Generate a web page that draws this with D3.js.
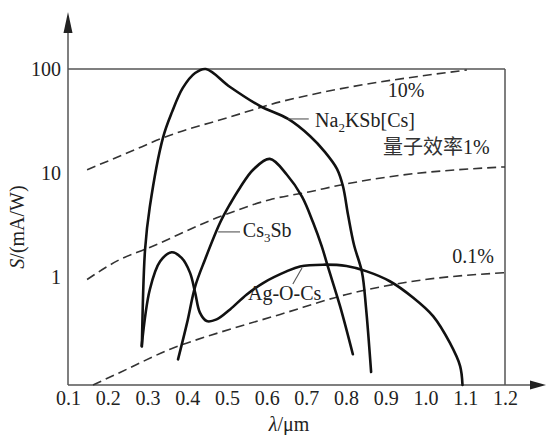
<!DOCTYPE html>
<html>
<head>
<meta charset="utf-8">
<script src="https://cdn.jsdelivr.net/npm/d3@7"></script>
<style>
  html, body { margin: 0; padding: 0; background: #fff; }
  svg text { font-family: "Liberation Serif", "Times New Roman", serif; fill: #222; }
</style>
</head>
<body>
<svg id="chart" width="547" height="435"></svg>
<script>
// Wavelength ticks (µm) and sensitivity ticks (mA/W)
const wavelengthTicks = [0.1, 0.2, 0.3, 0.4, 0.5, 0.6, 0.7, 0.8, 0.9, 1.0, 1.1, 1.2];
const sensitivityTicks = [1, 10, 100];

// Spectral sensitivity curves: [wavelength µm, S mA/W]
const na2ksbCs = [
  [0.286, 0.212], [0.294, 1.82], [0.306, 4.71], [0.339, 21.7], [0.362, 38.6],
  [0.389, 65.7], [0.420, 91.5], [0.447, 100], [0.508, 67.1], [0.583, 44.0],
  [0.654, 33.0], [0.709, 22.6], [0.747, 15.8], [0.777, 10.9], [0.792, 7.45],
  [0.805, 3.91], [0.820, 2.01], [0.840, 1.10], [0.850, 0.508], [0.863, 0.120]
];
const cs3sb = [
  [0.377, 0.159], [0.400, 0.361], [0.420, 0.80], [0.445, 1.46], [0.483, 3.31],
  [0.508, 5.0], [0.533, 7.18], [0.566, 10.7], [0.608, 13.6], [0.651, 9.57],
  [0.689, 5.88], [0.717, 3.31], [0.739, 1.94], [0.754, 1.25], [0.785, 0.515],
  [0.817, 0.178]
];
const agOCs = [
  [0.2855, 0.214], [0.306, 0.75], [0.332, 1.40], [0.361, 1.71], [0.386, 1.51],
  [0.407, 1.09], [0.420, 0.70], [0.432, 0.448], [0.449, 0.372], [0.474, 0.386],
  [0.508, 0.482], [0.550, 0.671], [0.592, 0.87], [0.650, 1.12], [0.684, 1.25],
  [0.742, 1.30], [0.801, 1.26], [0.852, 1.12], [0.910, 0.90], [0.969, 0.624],
  [1.019, 0.415], [1.061, 0.230], [1.087, 0.137], [1.093, 0.09]
];

// Constant quantum-efficiency reference lines
const qe10 = [
  [0.148, 10.7], [0.256, 15.9], [0.339, 21.7], [0.508, 34.5], [0.634, 48.2],
  [0.709, 56.2], [1.104, 97.8]
];
const qe1 = [
  [0.148, 0.935], [0.231, 1.46], [0.299, 1.86], [0.483, 3.78], [0.608, 5.5],
  [0.709, 6.57], [0.790, 7.67], [0.910, 9.16], [1.2, 11.4]
];
const qe01 = [
  [0.163, 0.09], [0.231, 0.119], [0.357, 0.199], [0.483, 0.29], [0.634, 0.431],
  [0.801, 0.671], [0.969, 0.90], [1.2, 1.09]
];

const svg = d3.select("#chart");
const plotLeft = 68, plotRight = 505, plotTop = 69, plotBottom = 385;

const x = d3.scaleLinear().domain([0.1, 1.2]).range([plotLeft, plotRight]);
const y = d3.scaleLog().domain([0.09, 100]).range([plotBottom, plotTop]);

const axisColor = "#555";

// Frame: top line at 100 and right border at 1.2
svg.append("line")
  .attr("x1", plotLeft).attr("x2", x(1.2))
  .attr("y1", y(100)).attr("y2", y(100))
  .attr("stroke", axisColor).attr("stroke-width", 1.5);
svg.append("line")
  .attr("x1", x(1.2)).attr("x2", x(1.2))
  .attr("y1", y(100)).attr("y2", plotBottom)
  .attr("stroke", axisColor).attr("stroke-width", 1.5);

// Axes with arrowheads
svg.append("line")
  .attr("x1", plotLeft).attr("x2", plotLeft)
  .attr("y1", plotBottom).attr("y2", 30)
  .attr("stroke", axisColor).attr("stroke-width", 1.5);
svg.append("path")
  .attr("d", `M${plotLeft},12 L${plotLeft - 4.5},33 L${plotLeft + 4.5},33 Z`)
  .attr("fill", "#222");
svg.append("line")
  .attr("x1", plotLeft).attr("x2", 530)
  .attr("y1", plotBottom).attr("y2", plotBottom)
  .attr("stroke", axisColor).attr("stroke-width", 1.5);
svg.append("path")
  .attr("d", `M546,${plotBottom} L530,${plotBottom - 4.5} L530,${plotBottom + 4.5} Z`)
  .attr("fill", "#222");

// Tick labels
const xAxis = svg.append("g")
  .attr("transform", `translate(0,${plotBottom})`)
  .call(d3.axisBottom(x).tickValues(wavelengthTicks).tickFormat(d3.format(".1f")).tickSize(0).tickPadding(6));
xAxis.select(".domain").remove();
xAxis.selectAll("text")
  .attr("font-size", 20).attr("dy", "0.71em")
  .style("font-family", "'Liberation Serif', serif").attr("fill", "#222");

const yAxis = svg.append("g")
  .attr("transform", `translate(${plotLeft},0)`)
  .call(d3.axisLeft(y).tickValues(sensitivityTicks).tickFormat(d3.format("d")).tickSize(0).tickPadding(7));
yAxis.select(".domain").remove();
yAxis.selectAll("text")
  .attr("font-size", 20).attr("dy", "0.34em")
  .style("font-family", "'Liberation Serif', serif").attr("fill", "#222");

// Axis titles
const yTitle = svg.append("text")
  .attr("transform", "translate(24,227) rotate(-90)")
  .attr("text-anchor", "middle")
  .attr("font-size", 20);
yTitle.append("tspan").attr("font-style", "italic").text("S");
yTitle.append("tspan").text("/(mA/W)");

const xTitle = svg.append("text")
  .attr("x", 289).attr("y", 431)
  .attr("text-anchor", "middle")
  .attr("font-size", 20);
xTitle.append("tspan").attr("font-style", "italic").text("λ");
xTitle.append("tspan").text("/μm");

// Quantum-efficiency dashed lines
const dashLine = d3.line()
  .x(d => x(d[0])).y(d => y(d[1]))
  .curve(d3.curveMonotoneX);
[qe10, qe1, qe01].forEach(series => {
  svg.append("path")
    .datum(series)
    .attr("d", dashLine)
    .attr("fill", "none")
    .attr("stroke", "#333")
    .attr("stroke-width", 1.6)
    .attr("stroke-dasharray", "9,5");
});

// Photocathode sensitivity curves
const curveLine = d3.line()
  .x(d => x(d[0])).y(d => y(d[1]))
  .curve(d3.curveCatmullRom.alpha(0.5));
[na2ksbCs, cs3sb, agOCs].forEach(series => {
  svg.append("path")
    .datum(series)
    .attr("d", curveLine)
    .attr("fill", "none")
    .attr("stroke", "#111")
    .attr("stroke-width", 2.6)
    .attr("stroke-linejoin", "round")
    .attr("stroke-linecap", "round");
});

// Leader lines from labels to curves
const leaders = [
  [[0.654, 33.0], [0.706, 33.0]],
  [[0.478, 2.69], [0.533, 2.69]],
  [[0.689, 1.21], [0.666, 0.847]]
];
leaders.forEach(([a, b]) => {
  svg.append("line")
    .attr("x1", x(a[0])).attr("y1", y(a[1]))
    .attr("x2", x(b[0])).attr("y2", y(b[1]))
    .attr("stroke", "#555").attr("stroke-width", 1.1);
});

// Labels (strings are normal text, {sub} entries are subscripts)
function label(at, parts) {
  const t = svg.append("text")
    .attr("x", x(at[0])).attr("y", y(at[1]))
    .attr("font-size", 20);
  let lowered = false;
  parts.forEach(p => {
    if (typeof p === "string") {
      const s = t.append("tspan").text(p);
      if (lowered) { s.attr("dy", -5); lowered = false; }
    } else {
      t.append("tspan").attr("font-size", 13).attr("dy", 5).text(p.sub);
      lowered = true;
    }
  });
  return t;
}
label([0.905, 53.7], ["10%"]);
label([0.722, 27.6], ["Na", { sub: "2" }, "KSb[Cs]"]);
const qeLabel = svg.append("text")
  .attr("x", x(0.893)).attr("y", y(15.2))
  .attr("font-size", 20);
qeLabel.append("tspan").style("font-family", "'Noto Sans CJK SC', sans-serif").attr("fill", "#333").text("量子效率");
qeLabel.append("tspan").text("1%");
label([0.540, 2.40], ["Cs", { sub: "3" }, "Sb"]);
label([0.553, 0.594], ["Ag-O-Cs"]);
label([1.067, 1.35], ["0.1%"]);
</script>
</body>
</html>
